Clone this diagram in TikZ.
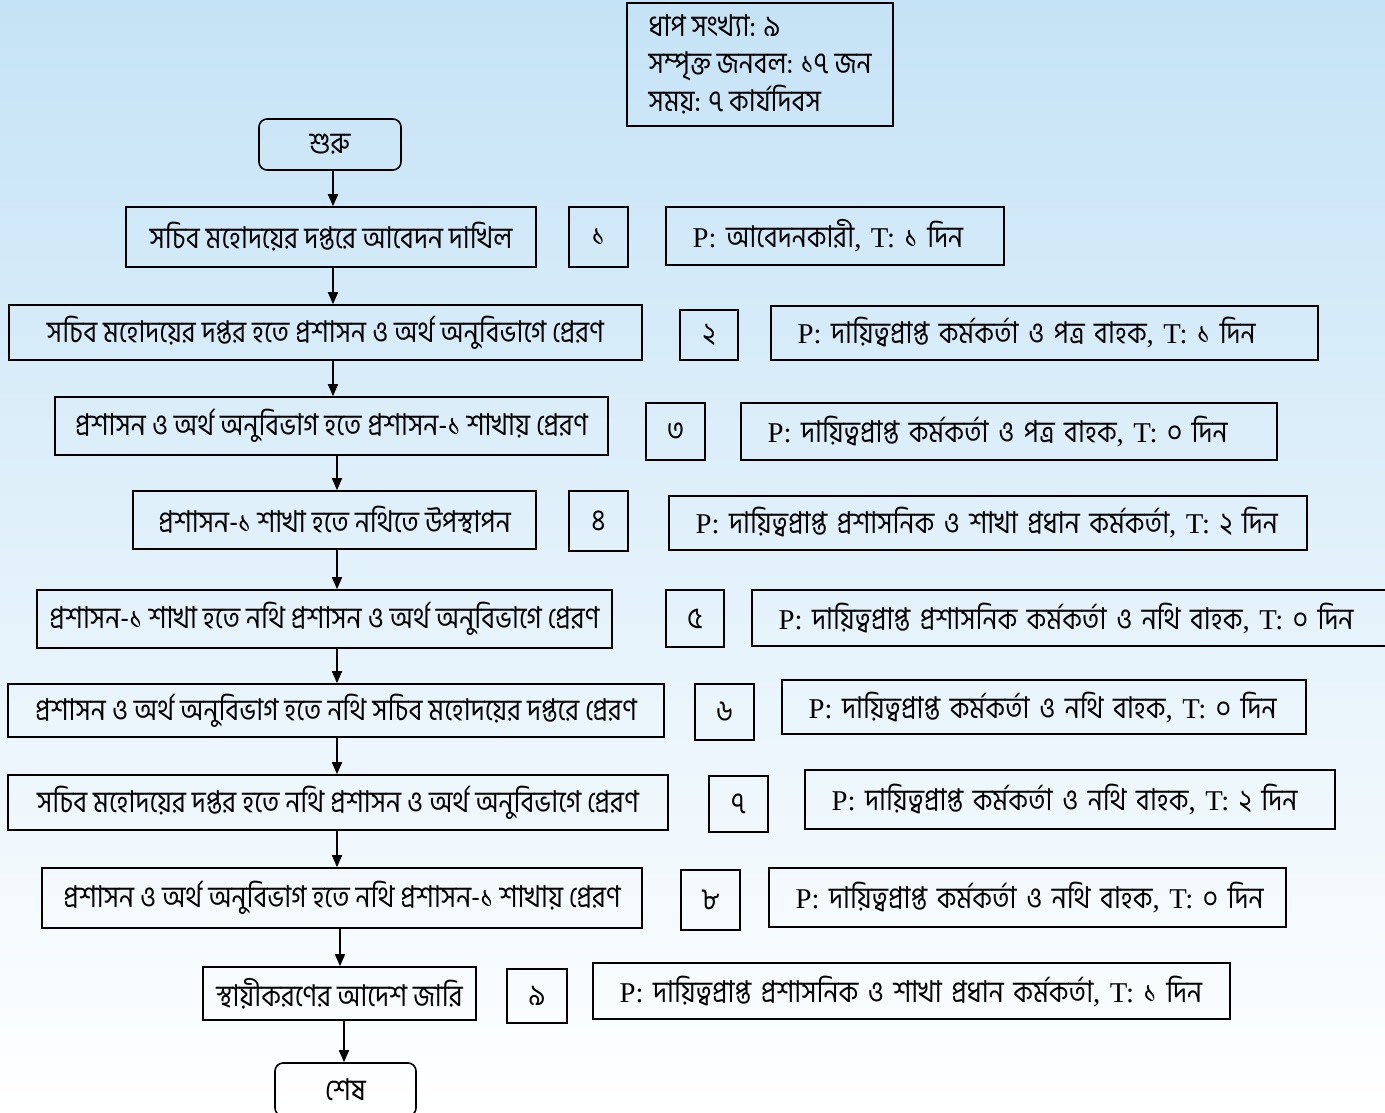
\documentclass[tikz,border=0pt]{standalone}
\usepackage{fontspec}
\setmainfont{Liberation Serif}
\newfontfamily\bn[Script=Bengali,FakeStretch=0.88]{Hind Siliguri}
\usetikzlibrary{arrows.meta}

\definecolor{bgtop}{RGB}{197,227,246}
\newcommand\bnt{\bn\fontsize{22.5}{25}\selectfont}
\newcommand\ptext[2]{\mbox{P: {\bnt #1}, T: {\bnt #2 দিন}}}

\tikzset{
	wh/.style 2 args={minimum width=#1*0.75pt, minimum height=#2*0.75pt},
	box/.style={draw, line width=1.2pt, inner sep=0pt, font=\bnt},
	endbox/.style={box, rounded corners=6pt},
	pbox/.style={draw, line width=1.2pt, inner ysep=0pt, inner xsep=20pt, align=left,
		text width=#1*0.75pt-40pt, font=\fontsize{21.5}{24}\selectfont},
	flow/.style={line width=1.2pt, -{Triangle[length=9pt,width=7.5pt]}}
}

\begin{document}
\begin{tikzpicture}[x=0.75pt,y=-0.75pt]
	\useasboundingbox (0,0) rectangle (1385,1113);
	\shade[top color=bgtop, bottom color=white] (0,0) rectangle (1385,1113);

	% summary
	\node[box, wh={266}{123}, align=left, font=\bnt, inner xsep=15pt] (info) at (760,64.5)
		{ধাপ সংখ্যা: ৯\\[2.5pt]সম্পৃক্ত জনবল: ১৭ জন\\[2.5pt]সময়: ৭ কার্যদিবস};

	\node[endbox, wh={142}{51}] (start) at (330,144.5) {শুরু};

	% steps
	\node[box, wh={410}{60}] (s1) at (331,237) {সচিব মহোদয়ের দপ্তরে আবেদন দাখিল};
	\node[box, wh={59}{60}] (n1) at (598.5,237) {১};
	\node[pbox=338, wh={338}{58}] (p1) at (835,236) {\ptext{আবেদনকারী}{১}};

	\node[box, wh={633}{55}] (s2) at (325.5,332.5) {সচিব মহোদয়ের দপ্তর হতে প্রশাসন ও অর্থ অনুবিভাগে প্রেরণ};
	\node[box, wh={58}{50}] (n2) at (709,335) {২};
	\node[pbox=547, wh={547}{54}] (p2) at (1044.5,333) {\ptext{দায়িত্বপ্রাপ্ত কর্মকর্তা ও পত্র বাহক}{১}};

	\node[box, wh={553}{58}] (s3) at (331.5,426) {প্রশাসন ও অর্থ অনুবিভাগ হতে প্রশাসন-১ শাখায় প্রেরণ};
	\node[box, wh={59}{57}] (n3) at (675.5,431.5) {৩};
	\node[pbox=536, wh={536}{57}] (p3) at (1009,431.5) {\ptext{দায়িত্বপ্রাপ্ত কর্মকর্তা ও পত্র বাহক}{০}};

	\node[box, wh={403}{58}] (s4) at (334.5,520) {প্রশাসন-১ শাখা হতে নথিতে উপস্থাপন};
	\node[box, wh={59}{60}] (n4) at (598.5,521) {৪};
	\node[pbox=638, wh={638}{54}] (p4) at (988,523) {\ptext{দায়িত্বপ্রাপ্ত প্রশাসনিক ও শাখা প্রধান কর্মকর্তা}{২}};

	\node[box, wh={575}{58}] (s5) at (324.5,619) {প্রশাসন-১ শাখা হতে নথি প্রশাসন ও অর্থ অনুবিভাগে প্রেরণ};
	\node[box, wh={58}{57}] (n5) at (695,618.5) {৫};
	\node[pbox=643, wh={643}{56}] (p5) at (1073.5,618) {\ptext{দায়িত্বপ্রাপ্ত প্রশাসনিক কর্মকর্তা ও নথি বাহক}{০}};

	\node[box, wh={656}{53}] (s6) at (336,710.5) {প্রশাসন ও অর্থ অনুবিভাগ হতে নথি সচিব মহোদয়ের দপ্তরে প্রেরণ};
	\node[box, wh={59}{56}] (n6) at (724.5,712) {৬};
	\node[pbox=524, wh={524}{54}] (p6) at (1044,707) {\ptext{দায়িত্বপ্রাপ্ত কর্মকর্তা ও নথি বাহক}{০}};

	\node[box, wh={660}{55}] (s7) at (338,802.5) {সচিব মহোদয়ের দপ্তর হতে নথি প্রশাসন ও অর্থ অনুবিভাগে প্রেরণ};
	\node[box, wh={59}{56}] (n7) at (738.5,804) {৭};
	\node[pbox=530, wh={530}{59}] (p7) at (1070,799.5) {\ptext{দায়িত্বপ্রাপ্ত কর্মকর্তা ও নথি বাহক}{২}};

	\node[box, wh={600}{60}] (s8) at (342,898) {প্রশাসন ও অর্থ অনুবিভাগ হতে নথি প্রশাসন-১ শাখায় প্রেরণ};
	\node[box, wh={59}{60}] (n8) at (710.5,900) {৮};
	\node[pbox=517, wh={517}{59}] (p8) at (1027.5,897.5) {\ptext{দায়িত্বপ্রাপ্ত কর্মকর্তা ও নথি বাহক}{০}};

	\node[box, wh={273}{53}] (s9) at (339.5,993.5) {স্থায়ীকরণের আদেশ জারি};
	\node[box, wh={60}{54}] (n9) at (537,996) {৯};
	\node[pbox=637, wh={637}{56}] (p9) at (911.5,991) {\ptext{দায়িত্বপ্রাপ্ত প্রশাসনিক ও শাখা প্রধান কর্মকর্তা}{১}};

	\node[endbox, wh={141}{53}] (end) at (345.5,1089.5) {শেষ};

	% arrows
	\draw[flow] (start.south -| 333,0) -- (s1.north -| 333,0);
	\draw[flow] (s1.south -| 333,0) -- (s2.north -| 333,0);
	\draw[flow] (s2.south -| 333,0) -- (s3.north -| 333,0);
	\draw[flow] (s3.south -| 337,0) -- (s4.north -| 337,0);
	\draw[flow] (s4.south -| 337,0) -- (s5.north -| 337,0);
	\draw[flow] (s5.south -| 337,0) -- (s6.north -| 337,0);
	\draw[flow] (s6.south -| 337,0) -- (s7.north -| 337,0);
	\draw[flow] (s7.south -| 337,0) -- (s8.north -| 337,0);
	\draw[flow] (s8.south -| 340,0) -- (s9.north -| 340,0);
	\draw[flow] (s9.south -| 344,0) -- (end.north -| 344,0);
\end{tikzpicture}
\end{document}
